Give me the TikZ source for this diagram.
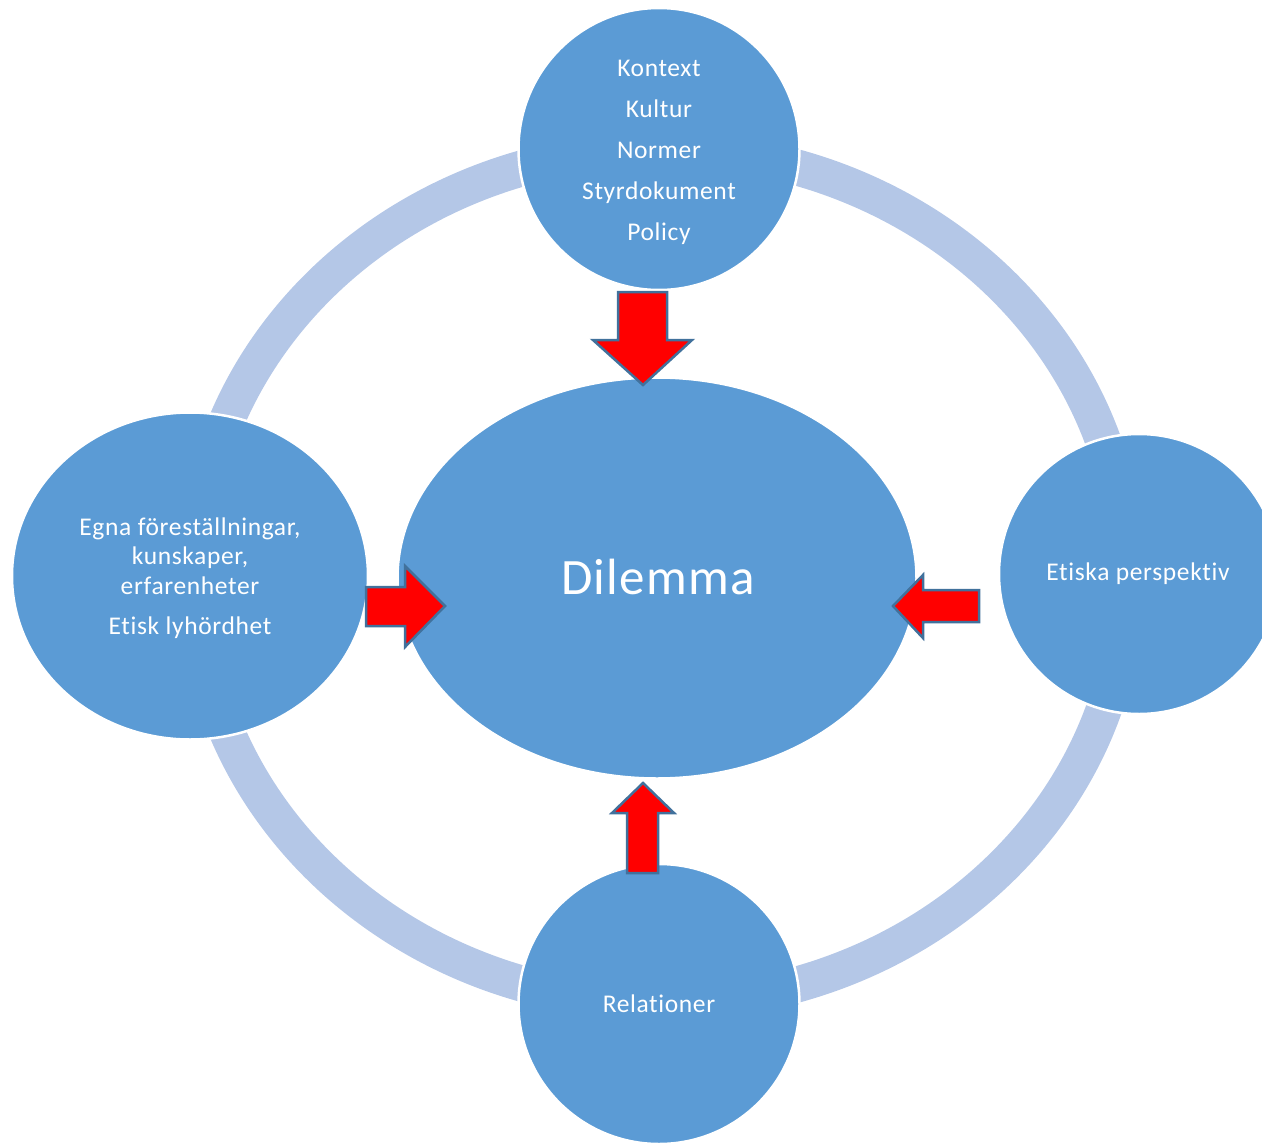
\documentclass[tikz,border=0pt]{standalone}
\usepackage{fontspec}
\setmainfont{Carlito}[LetterSpace=2.5, Ligatures=NoCommon]
\usetikzlibrary{shapes.geometric}
\definecolor{nodeblue}{HTML}{5B9BD5}
\definecolor{ringblue}{HTML}{B4C7E7}
\definecolor{arrowedge}{HTML}{41719C}
\tikzset{
  blob/.style={ellipse, fill=nodeblue, draw=white, line width=2.5pt, text=white, align=center, inner sep=0pt},
  smalltext/.style={font=\fontsize{25.5}{29.5}\selectfont},
  blockarrow/.style={fill=red, draw=arrowedge, line width=2.5pt, line join=miter}
}
\begin{document}
\begin{tikzpicture}[x=1pt,y=-1pt]
\useasboundingbox (0,0) rectangle (1262,1143);
% ring
\draw[ringblue, line width=36pt] (661,576) ellipse [x radius=466, y radius=427];
% outer nodes
\node[blob, minimum width=281, minimum height=282] (top) at (659,149) {};
\node[blob, minimum width=281, minimum height=280] (bottom) at (659,1004) {};
\node[blob, minimum width=356, minimum height=327] (left) at (190,576) {};
\node[blob, minimum width=280, minimum height=280] (right) at (1139,574) {};
\node[blob, minimum width=519, minimum height=401] (center) at (657,578) {};
% texts
\node[text=white, align=center, font=\fontsize{25.5}{41}\selectfont] (toptext) at (659,152)
  {Kontext\\Kultur\\Normer\\Styrdokument\\Policy};
\node[text=white, align=center, smalltext] (lefttext) at (190,578)
  {Egna föreställningar,\\kunskaper,\\erfarenheter\\[10.5pt]Etisk lyhördhet};
\node[text=white, smalltext] (righttext) at (1138,574) {Etiska perspektiv};
\node[text=white, smalltext] (bottomtext) at (659,1004) {Relationer};
\node[text=white, font=\fontsize{51}{60}\selectfont] (centertext) at (658,577) {Dilemma};
% block arrows
\draw[blockarrow] (618,292) -- (667,292) -- (667,340) -- (692,340) -- (643,385) -- (593,340) -- (618,340) -- cycle;
\draw[blockarrow] (366,587) -- (405,587) -- (405,566) -- (445,606) -- (405,647) -- (405,626) -- (366,626) -- cycle;
\draw[blockarrow] (979,590) -- (923,590) -- (923,575) -- (893,606) -- (923,638) -- (923,622) -- (979,622) -- cycle;
\draw[blockarrow] (627,873) -- (658,873) -- (658,813) -- (674,813) -- (643,783) -- (612,813) -- (627,813) -- cycle;
\end{tikzpicture}
\end{document}
